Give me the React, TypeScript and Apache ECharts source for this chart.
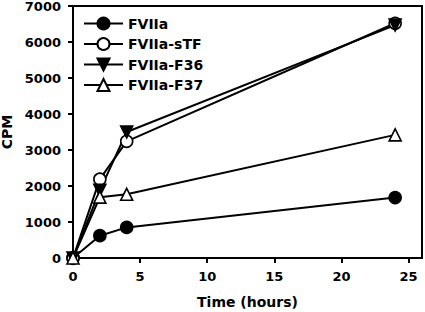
import React, { useEffect, useRef } from "react";
import * as echarts from "echarts";

const timeHours = [0, 2, 4, 24];
const seriesNames = ["FVIIa", "FVIIa-sTF", "FVIIa-F36", "FVIIa-F37"];
const fviia = [0, 620, 850, 1680];
const fviiaSTF = [0, 2190, 3240, 6520];
const fviiaF36 = [0, 1880, 3500, 6470];
const fviiaF37 = [0, 1690, 1770, 3420];
const xTicks = [0, 5, 10, 15, 20, 25];

const FONT = "'DejaVu Sans', sans-serif";

export default function App() {
  const ref = useRef<HTMLDivElement>(null);
  useEffect(() => {
    if (!ref.current) return;
    const chart = echarts.init(ref.current, undefined, { renderer: "svg" });
    const toPairs = (vals: number[]) => timeHours.map((t, i) => [t, vals[i]]);
    const line = { color: "#000", width: 2 };
    const mk = (name: string, vals: number[], symbol: string, fill: string, rotate = 0) => ({
      name,
      type: "line",
      data: toPairs(vals),
      symbol,
      symbolSize: 12,
      symbolRotate: rotate,
      showSymbol: true,
      lineStyle: line,
      itemStyle: { color: fill, borderColor: "#000", borderWidth: 1.6 },
      emphasis: { disabled: true },
    });
    chart.setOption({
      animation: false,
      backgroundColor: "#fff",
      grid: {
        left: 73,
        right: 3,
        top: 6,
        bottom: 54,
        show: true,
        borderColor: "#000",
        borderWidth: 2,
        containLabel: false,
        outerBoundsMode: "none",
      },
      legend: {
        left: 78,
        top: 11.5,
        orient: "vertical",
        itemWidth: 39,
        itemHeight: 15,
        itemGap: 6.5,
        data: seriesNames,
        textStyle: { fontFamily: FONT, fontWeight: "bold", fontSize: 14, color: "#000" },
      },
      xAxis: {
        type: "value",
        min: 0,
        max: 26,
        interval: 5,
        name: "Time (hours)",
        nameLocation: "middle",
        nameGap: 37,
        nameTextStyle: { fontFamily: FONT, fontWeight: "bold", fontSize: 14, color: "#000" },
        splitLine: { show: false },
        axisLine: { lineStyle: { color: "#000", width: 2 } },
        axisTick: { show: true, length: 5, lineStyle: { color: "#000", width: 2 }, customValues: xTicks },
        axisLabel: {
          margin: 12,
          fontFamily: FONT,
          fontWeight: "bold",
          fontSize: 13,
          color: "#000",
          customValues: xTicks,
          formatter: (v: number) => String(v),
        },
      },
      yAxis: {
        type: "value",
        min: 0,
        max: 7000,
        interval: 1000,
        name: "CPM",
        nameLocation: "middle",
        nameRotate: 90,
        nameGap: 59,
        nameTextStyle: { fontFamily: FONT, fontWeight: "bold", fontSize: 14, color: "#000" },
        splitLine: { show: false },
        axisLine: { lineStyle: { color: "#000", width: 2 } },
        axisTick: { show: true, length: 5, lineStyle: { color: "#000", width: 2 } },
        axisLabel: {
          margin: 12,
          fontFamily: FONT,
          fontWeight: "bold",
          fontSize: 13,
          color: "#000",
          formatter: (v: number) => String(v),
        },
      },
      series: [
        mk(seriesNames[0], fviia, "circle", "#000"),
        mk(seriesNames[1], fviiaSTF, "circle", "#fff"),
        mk(seriesNames[2], fviiaF36, "triangle", "#000", 180),
        mk(seriesNames[3], fviiaF37, "triangle", "#fff"),
      ],
    });
    return () => chart.dispose();
  }, []);
  return <div ref={ref} style={{ position: "fixed", left: 0, top: 0, width: 425, height: 312, background: "#fff" }} />;
}
